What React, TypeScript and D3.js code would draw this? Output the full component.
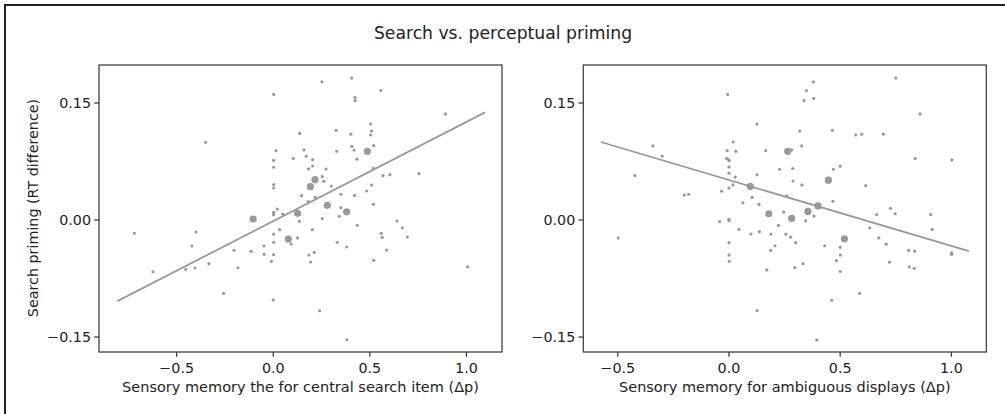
import React from "react";
import * as d3 from "d3";

// search priming (y) vs. sensory memory (x), one point per subject
const leftX = [0.002, -0.35, 0.014, 0.002, 0.002, 0.002, 0.002, 0.021, 0.252, 0.406, 0.557, 0.423, 0.424, 0.892, 0.137, 0.325, 0.402, 0.504, 0.509, 0.504, 0.159, 0.407, 0.418, 0.328, 0.52, 0.104, 0.171, 0.204, 0.433, 0.183, 0.204, 0.273, 0.518, 0.254, 0.262, 0.3, 0.568, 0.604, 0.754, 0.147, 0.181, 0.217, 0.35, 0.421, 0.509, 0.483, 0.35, 0.518, -0.719, -0.623, -0.4, -0.421, -0.453, -0.405, -0.333, -0.257, -0.203, -0.183, -0.115, -0.048, -0.047, -0.01, 0.0, 0.002, 0.002, 0.049, 0.002, 0.033, 0.002, 0.002, 0.135, 0.202, 0.254, 0.342, 0.435, 0.092, 0.126, 0.185, 0.212, 0.194, 0.331, 0.38, 0.559, 0.564, 0.587, 0.52, 0.64, 0.668, 0.694, 1.006, 0.24, 0.381];
const leftY = [0.161, 0.0996, 0.089, 0.0765, 0.0676, 0.0453, 0.041, 0.0141, 0.177, 0.182, 0.166, 0.157, 0.153, 0.136, 0.111, 0.115, 0.11, 0.123, 0.114, 0.109, 0.09, 0.0945, 0.0897, 0.088, 0.0953, 0.079, 0.0817, 0.0773, 0.078, 0.0654, 0.0692, 0.0654, 0.0663, 0.0555, 0.0496, 0.0436, 0.0568, 0.0581, 0.0594, 0.0312, 0.0235, 0.0291, 0.033, 0.0317, 0.0449, 0.0372, 0.0158, 0.0201, -0.017, -0.0663, -0.0154, -0.0333, -0.0632, -0.0615, -0.056, -0.094, -0.0388, -0.0612, -0.0401, -0.0333, -0.044, -0.053, -0.1026, 0.0099, 0.0068, 0.0077, -0.018, -0.0124, -0.0286, -0.0445, -0.0017, -0.0124, 0.0017, 0.0047, -0.0068, -0.0308, -0.023, -0.0449, -0.0414, -0.0538, -0.0286, -0.0346, -0.0171, -0.0222, -0.0385, -0.0517, -0.0013, -0.0099, -0.0218, -0.0599, -0.1163, -0.1535];
const leftBigX = [-0.104, 0.078, 0.126, 0.192, 0.216, 0.28, 0.38, 0.487];
const leftBigY = [0.0013, -0.0244, 0.0086, 0.0427, 0.0517, 0.0188, 0.0106, 0.088];

const rightX = [-0.006, 0.126, 0.019, -0.008, 0.031, -0.342, -0.3, -0.011, -0.001, 0.001, 0.0, 0.0, 0.028, 0.126, -0.423, 0.018, 0.0, -0.201, -0.181, -0.033, 0.104, 0.063, 0.135, 0.38, 0.75, 0.348, 0.337, 0.381, 0.859, 0.318, 0.465, 0.57, 0.597, 0.694, 0.165, 0.282, 0.327, 0.837, 1.002, 0.228, 0.287, 0.47, 0.5, 0.288, 0.328, 0.615, 0.26, 0.467, 0.726, -0.498, -0.042, 0.0, 0.0, 0.045, 0.099, 0.137, 0.0, 0.0, 0.001, 0.126, 0.246, 0.345, 0.382, 0.222, 0.188, 0.256, 0.277, 0.3, 0.207, 0.188, 0.17, 0.296, 0.333, 0.43, 0.5, 0.501, 0.483, 0.5, 0.462, 0.587, 0.395, 0.664, 0.747, 0.633, 0.674, 0.707, 0.722, 0.808, 0.835, 0.811, 0.833, 0.907, 0.914, 1.001, 1.001];
const rightY = [0.161, 0.123, 0.1, 0.089, 0.088, 0.095, 0.082, 0.079, 0.077, 0.076, 0.068, 0.06, 0.055, 0.058, 0.057, 0.045, 0.041, 0.032, 0.033, 0.037, 0.029, 0.022, 0.02, 0.177, 0.182, 0.166, 0.153, 0.156, 0.136, 0.114, 0.115, 0.109, 0.11, 0.11, 0.089, 0.09, 0.095, 0.079, 0.077, 0.065, 0.066, 0.065, 0.069, 0.05, 0.045, 0.044, 0.031, 0.024, 0.015, -0.023, -0.002, 0.001, -0.001, -0.012, -0.018, -0.015, -0.029, -0.045, -0.053, -0.116, 0.01, -0.001, 0.005, -0.007, -0.018, -0.018, -0.022, -0.029, -0.033, -0.039, -0.064, -0.061, -0.056, -0.033, -0.035, -0.045, -0.052, -0.066, -0.103, -0.094, -0.154, 0.007, 0.008, -0.01, -0.023, -0.031, -0.054, -0.039, -0.04, -0.06, -0.062, 0.007, -0.012, -0.042, -0.044];
const rightBigX = [0.096, 0.264, 0.447, 0.4, 0.355, 0.179, 0.282, 0.519];
const rightBigY = [0.043, 0.088, 0.051, 0.018, 0.011, 0.008, 0.002, -0.024];

// regression line endpoints
const leftFitX = [-0.807, 1.096];
const leftFitY = [-0.104, 0.138];
const rightFitX = [-0.576, 1.079];
const rightFitY = [0.1, -0.04];

const xTicks = [-0.5, 0, 0.5, 1.0];
const yTicks = [-0.15, 0, 0.15];

const title = "Search vs. perceptual priming";
const yLabel = "Search priming (RT difference)";
const leftLabel = "Sensory memory the for central search item (\u0394p)";
const rightLabel = "Sensory memory for ambiguous displays (\u0394p)";

const grey = "#999999";
const font = "DejaVu Sans, sans-serif";
const fmt = (d, digits) => d3.format(`.${digits}f`)(d).replace("-", "\u2212");

function Panel({ left, right, domainX, xs, ys, bigX, bigY, fitX, fitY, label }) {
    const top = 65, bottom = 352;
    const x = d3.scaleLinear().domain(domainX).range([left, right]);
    const y = d3.scaleLinear().domain([-0.1692, 0.1987]).range([bottom, top]);
    const line = d3.line().x(d => x(d[0])).y(d => y(d[1]));
    const fit = fitX.map((v, i) => [v, fitY[i]]);

    return (
        <g>
            <path d={line(fit)} stroke={grey} strokeWidth={1.8} fill="none" />
            {xs.map((v, i) => (
                <circle key={"s" + i} cx={x(v)} cy={y(ys[i])} r={1.6} fill={grey} />
            ))}
            {bigX.map((v, i) => (
                <circle key={"b" + i} cx={x(v)} cy={y(bigY[i])} r={3.6} fill={grey} />
            ))}
            <rect x={left} y={top} width={right - left} height={bottom - top}
                fill="none" stroke="#333" strokeWidth={1.2} />
            {xTicks.map(t => (
                <g key={"x" + t} transform={`translate(${x(t)},${bottom})`}>
                    <line y2={4.8} stroke="#333" strokeWidth={1.2} />
                    <text y={20.5} textAnchor="middle" fontSize={14.3} fontFamily={font} fill="#222">
                        {fmt(t, 1)}
                    </text>
                </g>
            ))}
            {yTicks.map(t => (
                <g key={"y" + t} transform={`translate(${left},${y(t)})`}>
                    <line x2={-4.8} stroke="#333" strokeWidth={1.2} />
                    <text x={-8} dy="0.36em" textAnchor="end" fontSize={14.3} fontFamily={font} fill="#222">
                        {fmt(t, 2)}
                    </text>
                </g>
            ))}
            <text x={(left + right) / 2} y={392} textAnchor="middle" fontSize={14.5} fontFamily={font} fill="#222">
                {label}
            </text>
        </g>
    );
}

export default function App() {
    return (
        <svg width={1005} height={414} style={{ position: "absolute", left: 0, top: 0, background: "#fff" }}>
            <rect x={5} y={5} width={1100} height={500} fill="#fff" stroke="#222" strokeWidth={2} />
            <text x={503} y={39} textAnchor="middle" fontSize={17.2} fontFamily={font} fill="#222">{title}</text>
            <text transform="translate(38,208) rotate(-90)" textAnchor="middle" fontSize={14.3} fontFamily={font} fill="#222">
                {yLabel}
            </text>
            <Panel left={99} right={502} domainX={[-0.902, 1.184]} xs={leftX} ys={leftY}
                bigX={leftBigX} bigY={leftBigY} fitX={leftFitX} fitY={leftFitY} label={leftLabel} />
            <Panel left={583.3} right={986.3} domainX={[-0.655, 1.157]} xs={rightX} ys={rightY}
                bigX={rightBigX} bigY={rightBigY} fitX={rightFitX} fitY={rightFitY} label={rightLabel} />
        </svg>
    );
}
